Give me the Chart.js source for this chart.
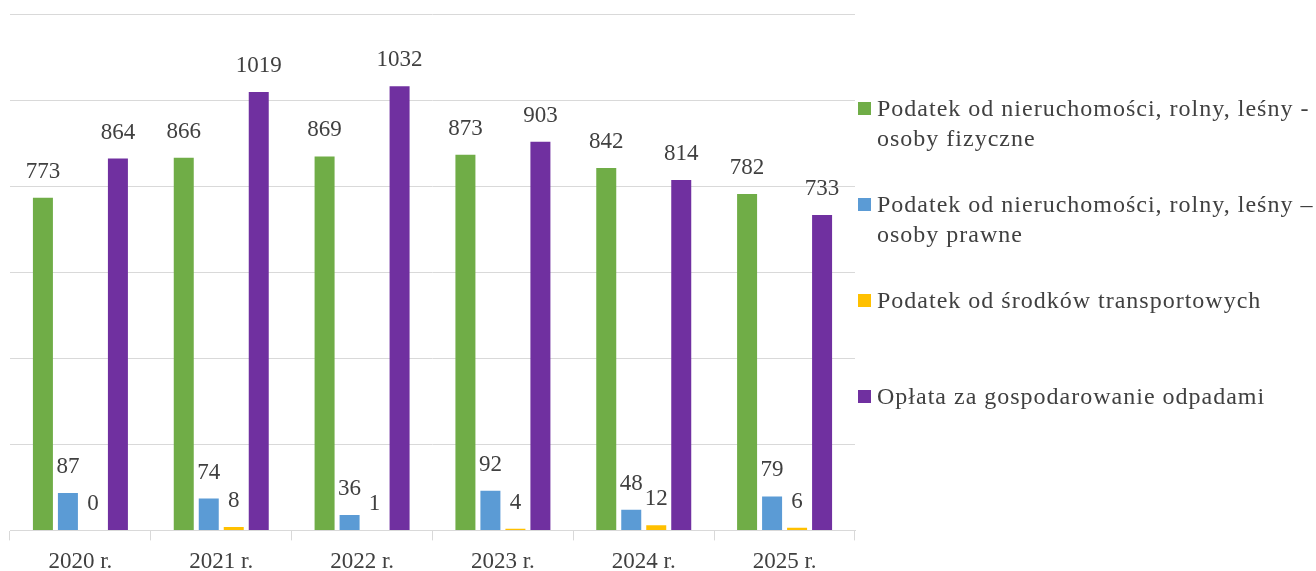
<!DOCTYPE html>
<html>
<head>
<meta charset="utf-8">
<script src="https://cdn.jsdelivr.net/npm/chart.js@4.4.0/dist/chart.umd.min.js"></script>
<style>
  html, body { margin: 0; padding: 0; background: #fff; }
  #wrap { position: relative; width: 1316px; height: 571px; overflow: hidden; }
  #chartBox { position: absolute; left: 0; top: 0; width: 870px; height: 584px; }
  #legend { position: absolute; left: 858px; top: 93px; width: 458px;
    font-family: "Liberation Serif", serif; font-size: 24px; letter-spacing: 1px; color: #404040; }
  .item { position: relative; height: 96px; line-height: 30px; white-space: pre-line; padding-left: 19px; }
  .box { position: absolute; left: 0; top: 9px; width: 13px; height: 13px; }
</style>
</head>
<body>
<div id="wrap">
  <div id="chartBox"><canvas id="chart"></canvas></div>
  <div id="legend"></div>
</div>
<script>
// ========== Data ==========
const years = ['2020 r.', '2021 r.', '2022 r.', '2023 r.', '2024 r.', '2025 r.'];
const seriesNames = [
  'Podatek od nieruchomości, rolny, leśny -\nosoby fizyczne',
  'Podatek od nieruchomości, rolny, leśny –\nosoby prawne',
  'Podatek od środków transportowych',
  'Opłata za gospodarowanie odpadami'
];
const fizyczne  = [773, 866, 869, 873, 842, 782];
const prawne    = [87, 74, 36, 92, 48, 79];
const transport = [0, 8, 1, 4, 12, 6];
const odpady    = [864, 1019, 1032, 903, 814, 733];
const colors = ['#70AD47', '#5B9BD5', '#FFC000', '#7030A0'];

const FONT = '"Liberation Serif", serif';
const TEXT = '#404040';

// ========== Value labels ==========
const valueLabels = {
  id: 'valueLabels',
  afterDatasetsDraw(chart) {
    const ctx = chart.ctx;
    ctx.save();
    ctx.font = '23px ' + FONT;
    ctx.fillStyle = TEXT;
    ctx.textAlign = 'center';
    ctx.textBaseline = 'middle';
    chart.data.datasets.forEach((ds, i) => {
      chart.getDatasetMeta(i).data.forEach((bar, j) => {
        ctx.fillText(ds.data[j], bar.x, bar.y - 26);
      });
    });
    ctx.restore();
  }
};

const chart = new Chart(document.getElementById('chart'), {
  type: 'bar',
  data: {
    labels: years,
    datasets: [fizyczne, prawne, transport, odpady].map((d, i) => ({
      label: seriesNames[i],
      data: d,
      backgroundColor: colors[i],
      categoryPercentage: 0.71,
      barPercentage: 0.8
    }))
  },
  options: {
    responsive: true,
    maintainAspectRatio: false,
    animation: false,
    layout: { padding: { left: 10, right: 15, top: 14, bottom: 0 } },
    scales: {
      x: {
        grid: { drawOnChartArea: false, color: '#d9d9d9', tickLength: 10 },
        border: { color: '#d9d9d9' },
        ticks: { color: TEXT, font: { family: FONT, size: 23 }, padding: 8 }
      },
      y: {
        min: 0,
        max: 1200,
        ticks: { display: false, stepSize: 200 },
        grid: { color: '#d9d9d9', drawTicks: false },
        border: { display: false }
      }
    },
    plugins: { legend: { display: false }, tooltip: { enabled: false } }
  },
  plugins: [valueLabels]
});

// ========== Legend ==========
const legend = document.getElementById('legend');
chart.data.datasets.forEach(ds => {
  const item = document.createElement('div');
  item.className = 'item';
  item.textContent = ds.label;
  const box = document.createElement('span');
  box.className = 'box';
  box.style.background = ds.backgroundColor;
  item.appendChild(box);
  legend.appendChild(item);
});
</script>
</body>
</html>
